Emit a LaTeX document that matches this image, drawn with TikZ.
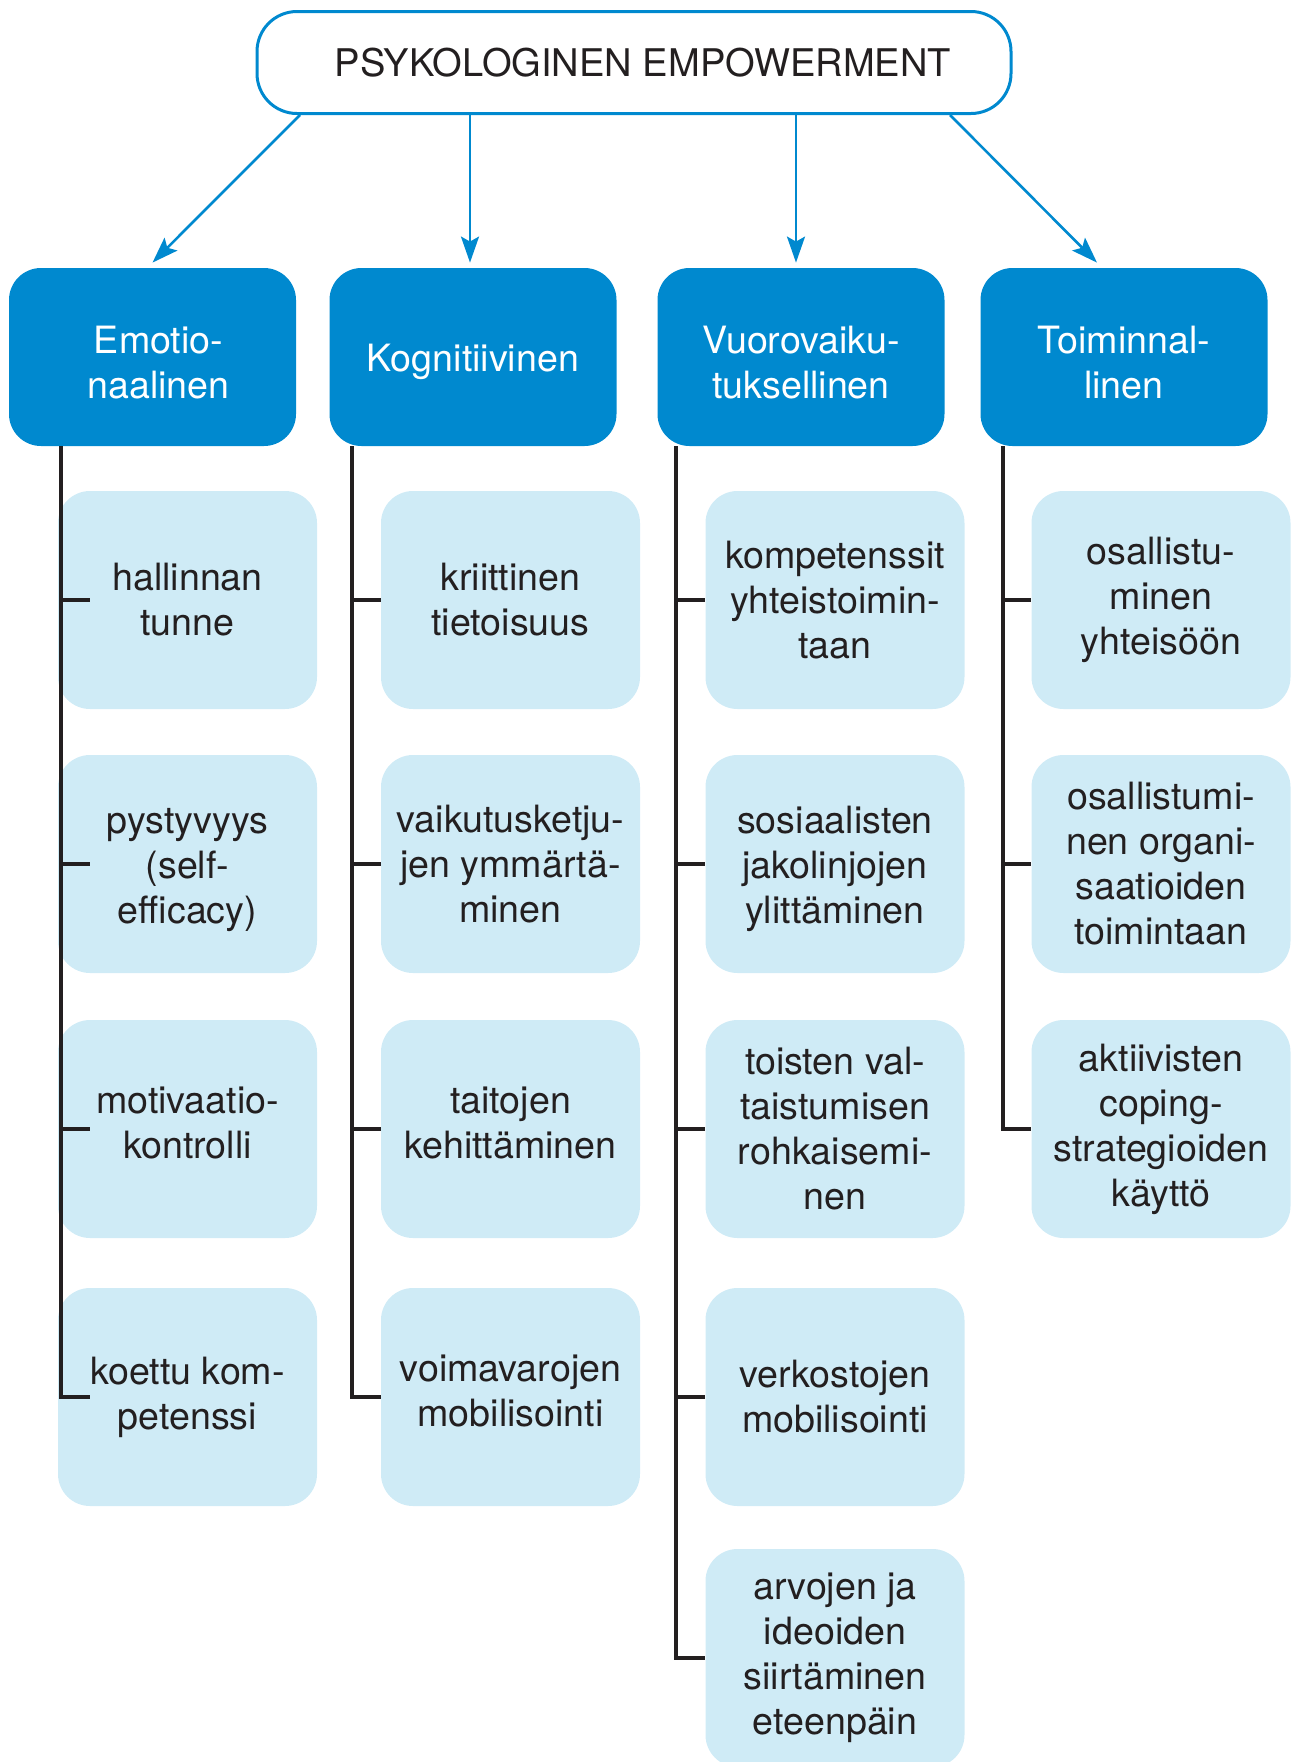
\documentclass[tikz,border=0pt]{standalone}
\usepackage{fontspec}
\setmainfont{TeX Gyre Heros}
\usetikzlibrary{arrows.meta,calc}

\definecolor{empblue}{RGB}{0,137,207}
\definecolor{emplight}{RGB}{207,235,246}
\definecolor{empdark}{RGB}{35,31,32}
\newcommand{\boxfont}{\fontsize{18.8pt}{22.5pt}\selectfont}
\newcommand{\tallstrut}{\rule{0pt}{19pt}}

\tikzset{
  raised/.style={execute at end node={\rule[-6pt]{0pt}{6pt}}},
  titlebox/.style={draw=empblue, line width=1.5pt, fill=white, rounded corners=20pt,
    minimum width=377pt, minimum height=51pt, inner sep=0pt, text=empdark,
    font=\fontsize{19.05pt}{22.5pt}\selectfont},
  catbox/.style={fill=empblue, rounded corners=16pt, minimum width=143.5pt,
    minimum height=89pt, inner sep=0pt, text=white, align=center, font=\boxfont},
  itembox/.style={fill=emplight, rounded corners=16pt, minimum width=129.5pt,
    minimum height=109pt, inner sep=0pt, text=empdark, align=center, font=\boxfont},
  pointer/.style={draw=empblue, line width=1.3pt, -{Stealth[length=13pt,width=9pt,inset=2.5pt]}},
  branch/.style={draw=empdark, line width=1.6pt},
}

\begin{document}
\begin{tikzpicture}[x=0.5pt,y=0.5pt,yscale=-1]
\useasboundingbox (0,0) rectangle (1295,1762);

% Title
\node [titlebox] (title) at (634,62.5) {\hspace*{9pt}PSYKOLOGINEN EMPOWERMENT};

% Dimensions
\node [catbox] (emo) at (152.5,357) {\tallstrut\hspace*{6pt}Emotio-\\\hspace*{6pt}naalinen};
\node [catbox] (kog) at (473,357) {\tallstrut Kognitiivinen};
\node [catbox] (vuo) at (801,357) {\tallstrut Vuorovaiku-\\tuksellinen};
\node [catbox] (toi) at (1124,357) {\tallstrut Toiminnal-\\linen};

% Arrows
\draw [pointer] ($(title.south)+(-334,0)$) -- ($(emo.north)+(0,-5)$);
\draw [pointer] ($(title.south)+(-164,0)$) -- ($(kog.north)+(-3,-5)$);
\draw [pointer] ($(title.south)+(162,0)$) -- ($(vuo.north)+(-5,-5)$);
\draw [pointer] ($(title.south)+(316,0)$) -- ($(toi.north)+(-27,-5)$);

% Column 1
\node [itembox] (emo1) at (187.5,600) {hallinnan\\tunne};
\node [itembox] (emo2) at (187.5,864) {\tallstrut pystyvyys\\(self-\\efficacy)};
\node [itembox, raised] (emo3) at (187.5,1129) {motivaatio-\\kontrolli};
\node [itembox] (emo4) at (187.5,1397) {koettu kom-\\petenssi};

% Column 2
\node [itembox] (kog1) at (510.5,600) {kriittinen\\tietoisuus};
\node [itembox] (kog2) at (510.5,864) {vaikutusketju-\\jen ymmärtä-\\minen};
\node [itembox, raised] (kog3) at (510.5,1129) {taitojen\\kehittäminen};
\node [itembox, raised] (kog4) at (510.5,1397) {voimavarojen\\mobilisointi};

% Column 3
\node [itembox] (vuo1) at (835,600) {kompetenssit\\yhteistoimin-\\taan};
\node [itembox] (vuo2) at (835,864) {\tallstrut sosiaalisten\\jakolinjojen\\ylittäminen};
\node [itembox] (vuo3) at (835,1129) {toisten val-\\taistumisen\\rohkaisemi-\\nen};
\node [itembox] (vuo4) at (835,1397) {verkostojen\\mobilisointi};
\node [itembox] (vuo5) at (835,1658) {arvojen ja\\ideoiden\\siirtäminen\\eteenpäin};

% Column 4
\node [itembox] (toi1) at (1161,600) {osallistu-\\minen\\yhteisöön};
\node [itembox] (toi2) at (1161,864) {osallistumi-\\nen organi-\\saatioiden\\toimintaan};
\node [itembox] (toi3) at (1161,1129) {aktiivisten\\coping-\\strategioiden\\käyttö};

% Spines
\coordinate (sp1) at (61,0);
\coordinate (sp2) at (352,0);
\coordinate (sp3) at (676,0);
\coordinate (sp4) at (1003,0);

\draw [branch] (emo.south -| sp1) -- (sp1 |- emo4.west) -- ++(29,0);
\draw [branch] (sp1 |- emo1.west) -- ++(29,0);
\draw [branch] (sp1 |- emo2.west) -- ++(29,0);
\draw [branch] (sp1 |- emo3.west) -- ++(29,0);

\draw [branch] (kog.south -| sp2) -- (sp2 |- kog4.west) -- (kog4.west);
\draw [branch] (sp2 |- kog1.west) -- (kog1.west);
\draw [branch] (sp2 |- kog2.west) -- (kog2.west);
\draw [branch] (sp2 |- kog3.west) -- (kog3.west);

\draw [branch] (vuo.south -| sp3) -- (sp3 |- vuo5.west) -- (vuo5.west);
\draw [branch] (sp3 |- vuo1.west) -- (vuo1.west);
\draw [branch] (sp3 |- vuo2.west) -- (vuo2.west);
\draw [branch] (sp3 |- vuo3.west) -- (vuo3.west);
\draw [branch] (sp3 |- vuo4.west) -- (vuo4.west);

\draw [branch] (toi.south -| sp4) -- (sp4 |- toi3.west) -- (toi3.west);
\draw [branch] (sp4 |- toi1.west) -- (toi1.west);
\draw [branch] (sp4 |- toi2.west) -- (toi2.west);

\end{tikzpicture}
\end{document}
